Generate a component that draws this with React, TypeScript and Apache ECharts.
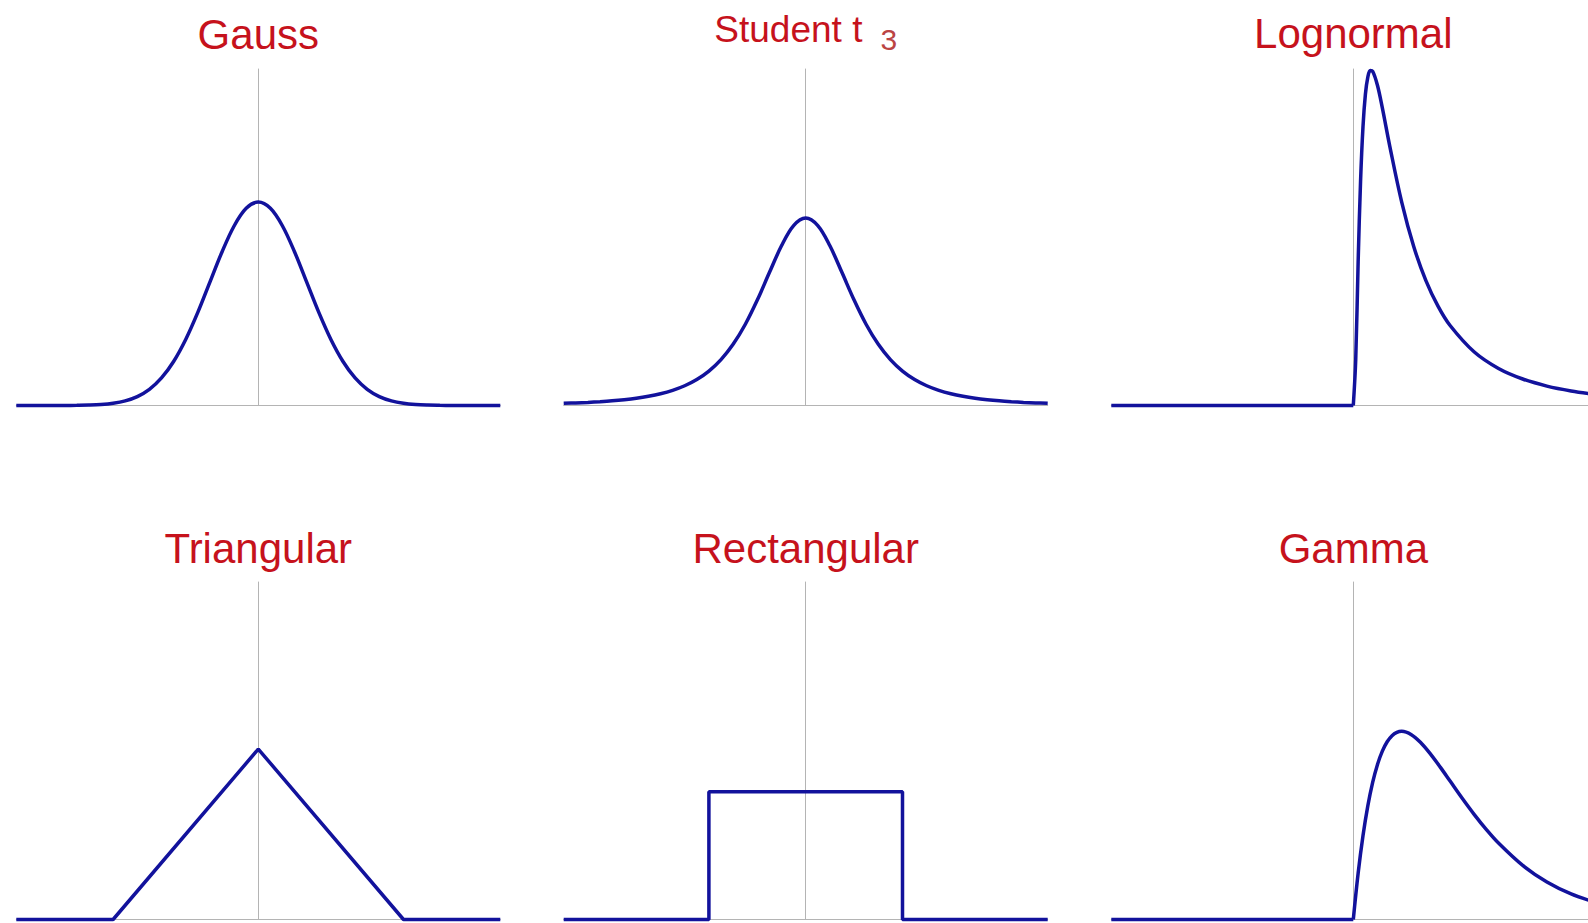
import React, { useEffect, useRef } from "react";
import * as echarts from "echarts";

// Panel titles (row by row)
const titles = ["Gauss", "Student t", "Lognormal", "Triangular", "Rectangular", "Gamma"];
const studentSubscript = "3";

// Shared x grid for the symmetric curves
const symX = [
  -5, -4.75, -4.5, -4.25, -4, -3.75, -3.5, -3.25, -3, -2.75, -2.5, -2.25, -2, -1.75, -1.5, -1.25, -1, -0.75, -0.5, -0.25,
  0, 0.25, 0.5, 0.75, 1, 1.25, 1.5, 1.75, 2, 2.25, 2.5, 2.75, 3, 3.25, 3.5, 3.75, 4, 4.25, 4.5, 4.75, 5,
];
const gaussY = [
  0, 0, 0, 0, 0.0001, 0.0004, 0.0009, 0.002, 0.0044, 0.0091, 0.0175, 0.0317, 0.054, 0.0863, 0.1295, 0.1826, 0.242, 0.3011, 0.3521, 0.3867,
  0.3989, 0.3867, 0.3521, 0.3011, 0.242, 0.1826, 0.1295, 0.0863, 0.054, 0.0317, 0.0175, 0.0091, 0.0044, 0.002, 0.0009, 0.0004, 0.0001, 0, 0, 0, 0,
];
const studentY = [
  0.0042, 0.0051, 0.0061, 0.0075, 0.0092, 0.0114, 0.0142, 0.018, 0.023, 0.0297, 0.0387, 0.0509, 0.0675, 0.09, 0.12, 0.1589, 0.2068, 0.2607, 0.3132, 0.3528,
  0.3676, 0.3528, 0.3132, 0.2607, 0.2068, 0.1589, 0.12, 0.09, 0.0675, 0.0509, 0.0387, 0.0297, 0.023, 0.018, 0.0142, 0.0114, 0.0092, 0.0075, 0.0061, 0.0051, 0.0042,
];
const lognX = [-5, 0, 0.05, 0.1, 0.15, 0.2, 0.25, 0.3, 0.35, 0.4, 0.5, 0.6, 0.75, 1, 1.25, 1.5, 1.75, 2, 2.5, 3, 3.5, 4, 4.5, 5];
const lognY = [
  0, 0, 0.0898, 0.2816, 0.44, 0.5465, 0.6104, 0.644, 0.6569, 0.6555, 0.6276, 0.5836, 0.5104, 0.3989, 0.3113, 0.245, 0.1949, 0.1569,
  0.1049, 0.0727, 0.052, 0.0381, 0.0286, 0.0219,
];
const triX = [-5, -3, 0, 3, 5];
const triY = [0, 0, 0.3333, 0, 0];
const rectX = [-5, -2, -2, 2, 2, 5];
const rectY = [0, 0, 0.25, 0.25, 0, 0];
const gammaX = [-5, 0, 0.1, 0.2, 0.3, 0.4, 0.5, 0.6, 0.7, 0.8, 0.9, 1, 1.2, 1.4, 1.6, 1.8, 2, 2.25, 2.5, 2.75, 3, 3.5, 4, 4.5, 5];
const gammaY = [
  0, 0, 0.0905, 0.1637, 0.2222, 0.2681, 0.3033, 0.3293, 0.3476, 0.3595, 0.3659, 0.3679, 0.3614, 0.3452, 0.323, 0.2975, 0.2707,
  0.2371, 0.2052, 0.1758, 0.1494, 0.1057, 0.0733, 0.05, 0.0337,
];

const xMin = -5;
const xMax = 5;
const yMax = 0.66;

const W = 1588;
const H = 923;
const colCenters = [258.3, 805.7, 1353.3];
const halfW = 242;
const rows = [
  { top: 69, height: 336.5 },
  { top: 582, height: 337.5 },
];
const nameGaps = [14, 19, 15, 12.5, 12.5, 12.5];

const TITLE_COLOR = "#c6121c";
const LINE_COLOR = "#12129c";
const AXIS_COLOR = "#b4b4b4";
const FONT = "'Liberation Sans', Arial, sans-serif";

// split: true -> flat baseline drawn straight, curve (x >= 0) smoothed on its own
const panels = [
  { xs: symX, ys: gaussY, smooth: true, split: false },
  { xs: symX, ys: studentY, smooth: true, split: false },
  { xs: lognX, ys: lognY, smooth: true, split: true },
  { xs: triX, ys: triY, smooth: false, split: false },
  { xs: rectX, ys: rectY, smooth: false, split: false },
  { xs: gammaX, ys: gammaY, smooth: true, split: true },
];

function pairs(xs: number[], ys: number[]) {
  return xs.map((x, i) => [x, ys[i]]);
}

export default function App() {
  const ref = useRef<HTMLDivElement>(null);

  useEffect(() => {
    document.body.style.margin = "0";
    if (!ref.current) return;
    const chart = echarts.init(ref.current, null, { renderer: "svg" });

    const grid: any[] = [];
    const xAxis: any[] = [];
    const yAxis: any[] = [];
    const series: any[] = [];

    const lineSeries = (i: number, data: number[][], smooth: boolean) => ({
      type: "line",
      xAxisIndex: i,
      yAxisIndex: i,
      data,
      showSymbol: false,
      smooth: smooth ? 0.35 : false,
      clip: false,
      lineStyle: { color: LINE_COLOR, width: 3.5 },
      silent: true,
    });

    panels.forEach((p, i) => {
      const row = rows[Math.floor(i / 3)];
      const cx = colCenters[i % 3];
      grid.push({
        left: cx - halfW,
        top: row.top,
        width: halfW * 2,
        height: row.height,
        containLabel: false,
        outerBoundsMode: "none",
      });
      xAxis.push({
        type: "value",
        gridIndex: i,
        min: xMin,
        max: xMax,
        axisLine: { show: true, onZero: true, lineStyle: { color: AXIS_COLOR, width: 1 } },
        axisTick: { show: false },
        axisLabel: { show: false },
        splitLine: { show: false },
      });
      const isStudent = i === 1;
      yAxis.push({
        type: "value",
        gridIndex: i,
        min: 0,
        max: yMax,
        name: isStudent ? `{a|${titles[i]}}{b|${studentSubscript}}` : titles[i],
        nameLocation: "end",
        nameGap: nameGaps[i],
        nameTextStyle: {
          color: TITLE_COLOR,
          fontSize: 42,
          fontFamily: FONT,
          fontWeight: "normal",
          rich: isStudent
            ? {
                a: { color: TITLE_COLOR, fontSize: 37, fontFamily: FONT, lineHeight: 41 },
                b: { color: "#bb4444", fontSize: 30, fontFamily: FONT, lineHeight: 41, padding: [20, 0, 0, 18] },
              }
            : undefined,
        },
        axisLine: { show: true, onZero: true, lineStyle: { color: AXIS_COLOR, width: 1 } },
        axisTick: { show: false },
        axisLabel: { show: false },
        splitLine: { show: false },
      });
      const all = pairs(p.xs, p.ys);
      if (p.split) {
        series.push(lineSeries(i, all.filter((d) => d[0] <= 0), false));
        series.push(lineSeries(i, all.filter((d) => d[0] >= 0), true));
      } else {
        series.push(lineSeries(i, all, p.smooth));
      }
    });

    chart.setOption({
      animation: false,
      backgroundColor: "#ffffff",
      grid,
      xAxis,
      yAxis,
      series,
    });

    return () => chart.dispose();
  }, []);

  return <div ref={ref} style={{ position: "fixed", left: 0, top: 0, width: W, height: H }} />;
}
